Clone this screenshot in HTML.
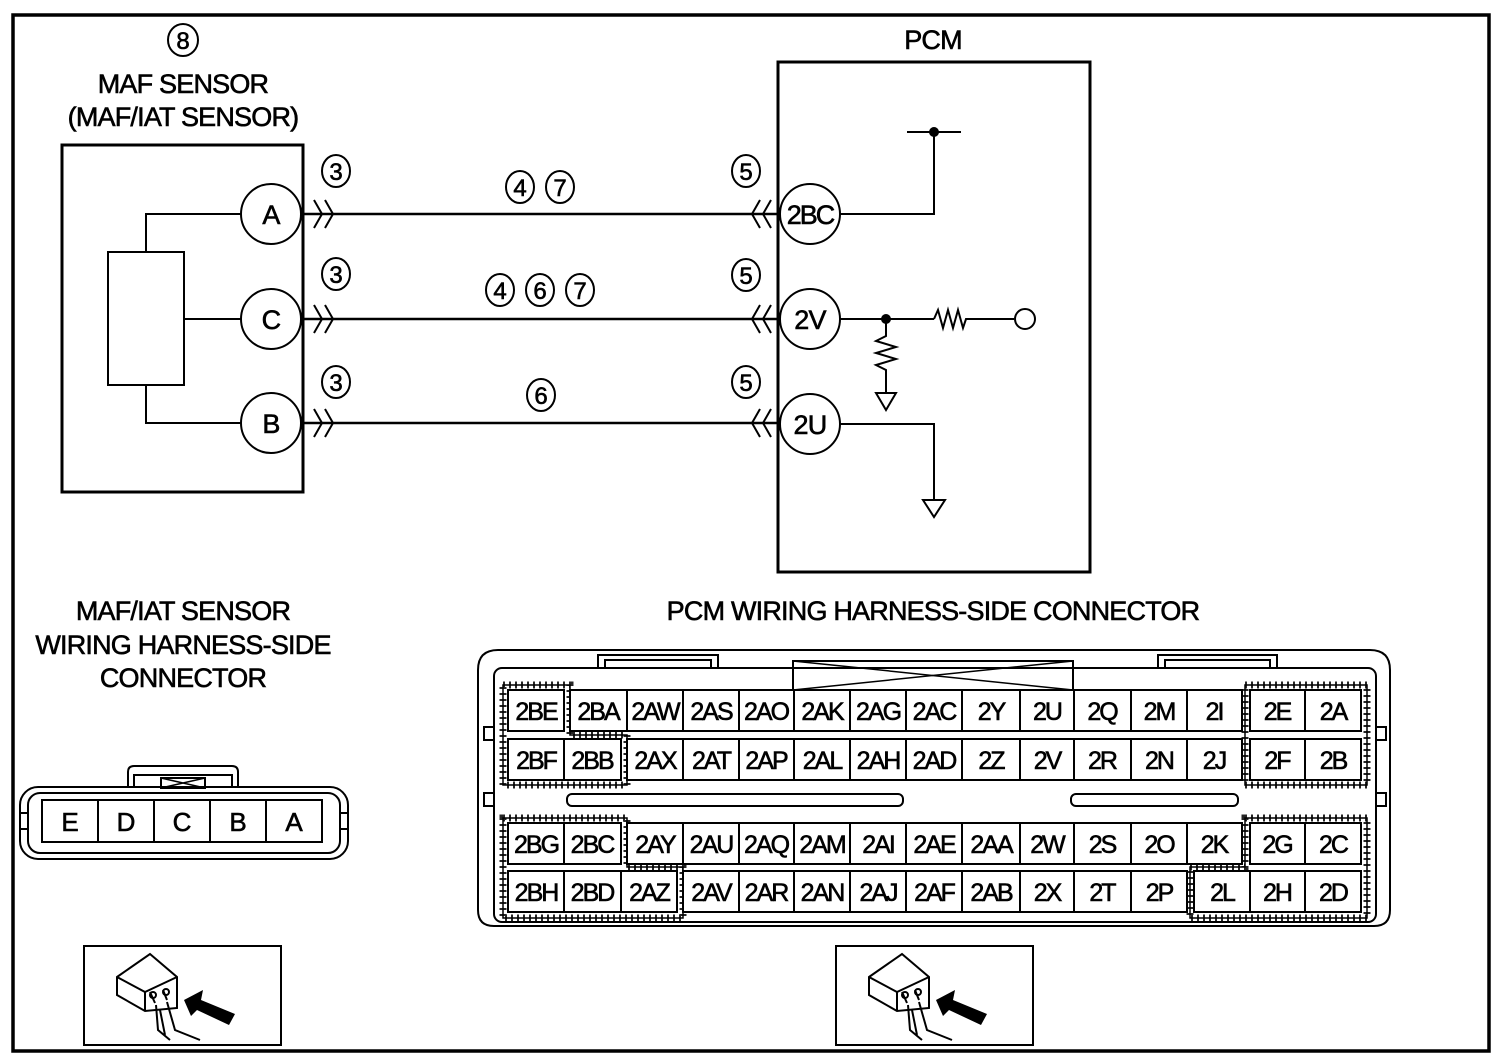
<!DOCTYPE html>
<html><head><meta charset="utf-8"><style>
html,body{margin:0;padding:0;background:#fff}
svg{display:block}
text{font-family:"Liberation Sans",Arial,sans-serif;fill:#000;stroke:#000;stroke-width:0.6}
</style></head><body>
<svg width="1502" height="1062" viewBox="0 0 1502 1062" xmlns="http://www.w3.org/2000/svg">
<rect x="0" y="0" width="1502" height="1062" fill="#fff"/>
<rect x="13" y="15" width="1476" height="1036" fill="none" stroke="#000" stroke-width="3.5"/>

<g fill="none" stroke="#000" stroke-width="2.5">
<rect x="62" y="145" width="241" height="347" stroke-width="3"/>
<rect x="108" y="252" width="76" height="133" stroke-width="2"/>
<polyline points="146,252 146,214 241,214" stroke-width="2"/>
<polyline points="146,385 146,423 241,423" stroke-width="2"/>
<line x1="184" y1="319" x2="241" y2="319" stroke-width="2"/>
<circle cx="271" cy="214" r="30" stroke-width="2"/>
<circle cx="271" cy="319" r="30" stroke-width="2"/>
<circle cx="271" cy="423" r="30" stroke-width="2"/>
<line x1="303" y1="214" x2="778" y2="214"/>
<line x1="303" y1="319" x2="778" y2="319"/>
<line x1="303" y1="423" x2="778" y2="423"/>
<g stroke-width="2">
<polyline points="314,200 322,214 314,228"/><polyline points="325,200 333,214 325,228"/>
<polyline points="314,305 322,319 314,333"/><polyline points="325,305 333,319 325,333"/>
<polyline points="314,409 322,423 314,437"/><polyline points="325,409 333,423 325,437"/>
<polyline points="760,200 752,214 760,228"/><polyline points="771,200 763,214 771,228"/>
<polyline points="760,305 752,319 760,333"/><polyline points="771,305 763,319 771,333"/>
<polyline points="760,409 752,423 760,437"/><polyline points="771,409 763,423 771,437"/>
</g>
<rect x="778" y="62" width="312" height="510" stroke-width="3"/>
<circle cx="810" cy="214" r="30" fill="#fff" stroke-width="2"/>
<circle cx="810" cy="319" r="30" fill="#fff" stroke-width="2"/>
<circle cx="810" cy="424" r="30" fill="#fff" stroke-width="2"/>
<polyline points="840,214 934,214 934,132" stroke-width="2"/>
<line x1="907" y1="132" x2="961" y2="132" stroke-width="2"/>
<line x1="840" y1="319" x2="934" y2="319" stroke-width="2"/>
<polyline points="934,319 938,310 943,328 948,310 953,328 958,310 963,328 966,319 1014,319" stroke-width="2"/>
<circle cx="1025" cy="319" r="10" stroke-width="2"/>
<polyline points="886,319 886,336 876,341 896,347 876,353 896,359 876,365 886,370 886,393" stroke-width="2"/>
<polygon points="876,393 896,393 886,410" stroke-width="2"/>
<polyline points="840,424 934,424 934,500" stroke-width="2"/>
<polygon points="923,500 945,500 934,517" stroke-width="2"/>
</g>
<circle cx="934" cy="132" r="5"/>
<circle cx="886" cy="319" r="5"/>

<g fill="none" stroke="#000" stroke-width="2">
<ellipse cx="183" cy="40" rx="15" ry="16"/>
<ellipse cx="336" cy="171" rx="14" ry="16"/><ellipse cx="336" cy="274" rx="14" ry="16"/><ellipse cx="336" cy="382" rx="14" ry="16"/>
<ellipse cx="520" cy="187" rx="14" ry="16"/><ellipse cx="560" cy="187" rx="14" ry="16"/>
<ellipse cx="500" cy="290" rx="14" ry="16"/><ellipse cx="540" cy="290" rx="14" ry="16"/><ellipse cx="580" cy="290" rx="14" ry="16"/>
<ellipse cx="541" cy="395" rx="14" ry="16"/>
<ellipse cx="746" cy="171" rx="14" ry="16"/><ellipse cx="746" cy="275" rx="14" ry="16"/><ellipse cx="746" cy="382" rx="14" ry="16"/>
</g>
<g font-size="24" text-anchor="middle">
<text x="183" y="49">8</text>
<text x="336" y="180">3</text><text x="336" y="283">3</text><text x="336" y="391">3</text>
<text x="520" y="196">4</text><text x="560" y="196">7</text>
<text x="500" y="299">4</text><text x="540" y="299">6</text><text x="580" y="299">7</text>
<text x="541" y="404">6</text>
<text x="746" y="180">5</text><text x="746" y="284">5</text><text x="746" y="391">5</text>
</g>
<g font-size="27" text-anchor="middle" letter-spacing="-0.8">
<text x="183" y="93">MAF SENSOR</text>
<text x="183" y="126">(MAF/IAT SENSOR)</text>
<text x="933" y="49">PCM</text>
<text x="271" y="224">A</text><text x="271" y="329">C</text><text x="271" y="433">B</text>
<text x="810" y="224" letter-spacing="-2">2BC</text><text x="810" y="329">2V</text><text x="810" y="434">2U</text>
<text x="183" y="620">MAF/IAT SENSOR</text>
<text x="183" y="654">WIRING HARNESS-SIDE</text>
<text x="183" y="687">CONNECTOR</text>
<text x="933" y="620">PCM WIRING HARNESS-SIDE CONNECTOR</text>
</g>

<g fill="none" stroke="#000" stroke-width="2">
<path d="M128,787 L128,772 Q128,766 134,766 L232,766 Q238,766 238,772 L238,787"/>
<path d="M134,787 L134,775 L232,775 L232,787"/>
<rect x="161" y="778" width="44" height="10"/>
<path d="M161,778 L205,788 M205,778 L161,788" stroke-width="1.5"/>
<rect x="20" y="787" width="328" height="72" rx="18"/>
<rect x="28" y="793" width="312" height="60" rx="12"/>
<rect x="42" y="800" width="280" height="42"/>
<line x1="98" y1="800" x2="98" y2="842"/><line x1="154" y1="800" x2="154" y2="842"/>
<line x1="210" y1="800" x2="210" y2="842"/><line x1="266" y1="800" x2="266" y2="842"/>
<rect x="20" y="813" width="8" height="16"/><rect x="340" y="813" width="8" height="16"/>
</g>
<g font-size="26" text-anchor="middle">
<text x="70" y="831">E</text><text x="126" y="831">D</text><text x="182" y="831">C</text><text x="238" y="831">B</text><text x="294" y="831">A</text>
</g>

<g fill="none" stroke="#000" stroke-width="2">
<path d="M478,910 L478,670 Q478,650 498,650 L1370,650 Q1390,650 1390,670 L1390,910 Q1390,926 1374,926 L494,926 Q478,926 478,910 Z"/>
<rect x="494" y="668" width="882" height="254" rx="8"/>
<path d="M598,668 L598,655 L718,655 L718,668 M605,668 L605,660 L711,660 L711,668"/>
<path d="M1158,668 L1158,655 L1277,655 L1277,668 M1165,668 L1165,660 L1270,660 L1270,668"/>
<rect x="793" y="661" width="280" height="29"/>
<path d="M793,661 L1073,690 M1073,661 L793,690" stroke-width="1.5"/>
<rect x="567" y="794" width="336" height="12" rx="5"/>
<rect x="1071" y="794" width="167" height="12" rx="5"/>
<rect x="484" y="727" width="10" height="13"/><rect x="484" y="793" width="10" height="13"/>
<rect x="1376" y="727" width="10" height="13"/><rect x="1376" y="793" width="10" height="13"/>
</g>
<g fill="none" stroke="#000" stroke-width="7" stroke-dasharray="2 4" opacity="0.85">
<path d="M503,685 L570,685 L570,735 L627,735 L627,785 L503,785 Z"/>
<path d="M503,818 L627,818 L627,867 L683,867 L683,918 L503,918 Z"/>
<path d="M1245,685 L1367,685 L1367,785 L1245,785 Z"/>
<path d="M1245,818 L1367,818 L1367,918 L1190,918 L1190,867 L1245,867 Z"/>
</g>
<g fill="none" stroke="#000" stroke-width="1.5">
<path d="M503,685 L570,685 L570,735 L627,735 L627,785 L503,785 Z"/>
<path d="M503,818 L627,818 L627,867 L683,867 L683,918 L503,918 Z"/>
<path d="M1245,685 L1367,685 L1367,785 L1245,785 Z"/>
<path d="M1245,818 L1367,818 L1367,918 L1190,918 L1190,867 L1245,867 Z"/>
</g>

<g fill="none" stroke="#000" stroke-width="2">
<rect x="84" y="946" width="197" height="99"/>
<rect x="836" y="946" width="197" height="99"/>
</g>
<g fill="none" stroke="#000" stroke-width="2">
<path d="M117,977 L150,954 L177,977 L177,1008 L145,1011 L117,995 Z"/>
<path d="M117,977 L145,992 L177,977 M145,992 L145,1011"/>
<path d="M150,992 L155,1003 M163,990 L167,1000 M156,1005 L158,1030 L170,1040 M167,1002 L175,1030 L200,1040 M160,1010 L165,1035"/>
<circle cx="153" cy="995" r="3"/><circle cx="166" cy="992" r="3"/>
</g>
<polygon points="184,1000 203,990 201,1000 235,1014 229,1025 197,1010 191,1016" fill="#000"/>
<g fill="none" stroke="#000" stroke-width="2">
<path d="M869,977 L902,954 L929,977 L929,1008 L897,1011 L869,995 Z"/>
<path d="M869,977 L897,992 L929,977 M897,992 L897,1011"/>
<path d="M902,992 L907,1003 M915,990 L919,1000 M908,1005 L910,1030 L922,1040 M919,1002 L927,1030 L952,1040 M912,1010 L917,1035"/>
<circle cx="905" cy="995" r="3"/><circle cx="918" cy="992" r="3"/>
</g>
<polygon points="936,1000 955,990 953,1000 987,1014 981,1025 949,1010 943,1016" fill="#000"/>

<g fill="#fff" stroke="#000" stroke-width="2">
<rect x="508" y="690" width="56" height="41"/><rect x="570" y="690" width="57" height="41"/><rect x="627" y="690" width="56" height="41"/><rect x="683" y="690" width="56" height="41"/><rect x="739" y="690" width="55" height="41"/><rect x="794" y="690" width="56" height="41"/><rect x="850" y="690" width="56" height="41"/><rect x="906" y="690" width="56" height="41"/><rect x="962" y="690" width="58" height="41"/><rect x="1020" y="690" width="54" height="41"/><rect x="1074" y="690" width="57" height="41"/><rect x="1131" y="690" width="56" height="41"/><rect x="1187" y="690" width="55" height="41"/><rect x="1250" y="690" width="55" height="41"/><rect x="1305" y="690" width="56" height="41"/>
<rect x="508" y="739" width="56" height="41"/><rect x="564" y="739" width="57" height="41"/><rect x="627" y="739" width="56" height="41"/><rect x="683" y="739" width="56" height="41"/><rect x="739" y="739" width="55" height="41"/><rect x="794" y="739" width="56" height="41"/><rect x="850" y="739" width="56" height="41"/><rect x="906" y="739" width="56" height="41"/><rect x="962" y="739" width="58" height="41"/><rect x="1020" y="739" width="54" height="41"/><rect x="1074" y="739" width="57" height="41"/><rect x="1131" y="739" width="56" height="41"/><rect x="1187" y="739" width="55" height="41"/><rect x="1250" y="739" width="55" height="41"/><rect x="1305" y="739" width="56" height="41"/>
<rect x="508" y="823" width="56" height="41"/><rect x="564" y="823" width="57" height="41"/><rect x="627" y="823" width="56" height="41"/><rect x="683" y="823" width="56" height="41"/><rect x="739" y="823" width="55" height="41"/><rect x="794" y="823" width="56" height="41"/><rect x="850" y="823" width="56" height="41"/><rect x="906" y="823" width="56" height="41"/><rect x="962" y="823" width="58" height="41"/><rect x="1020" y="823" width="54" height="41"/><rect x="1074" y="823" width="57" height="41"/><rect x="1131" y="823" width="56" height="41"/><rect x="1187" y="823" width="55" height="41"/><rect x="1250" y="823" width="55" height="41"/><rect x="1305" y="823" width="56" height="41"/>
<rect x="508" y="871" width="56" height="41"/><rect x="564" y="871" width="57" height="41"/><rect x="621" y="871" width="56" height="41"/><rect x="683" y="871" width="56" height="41"/><rect x="739" y="871" width="55" height="41"/><rect x="794" y="871" width="56" height="41"/><rect x="850" y="871" width="56" height="41"/><rect x="906" y="871" width="56" height="41"/><rect x="962" y="871" width="58" height="41"/><rect x="1020" y="871" width="54" height="41"/><rect x="1074" y="871" width="57" height="41"/><rect x="1131" y="871" width="56" height="41"/><rect x="1194" y="871" width="56" height="41"/><rect x="1250" y="871" width="55" height="41"/><rect x="1305" y="871" width="56" height="41"/>
</g>
<g font-size="25" text-anchor="middle" letter-spacing="-2">
<text x="536" y="720">2BE</text><text x="598" y="720">2BA</text><text x="655" y="720">2AW</text><text x="711" y="720">2AS</text><text x="766" y="720">2AO</text><text x="822" y="720">2AK</text><text x="878" y="720">2AG</text><text x="934" y="720">2AC</text><text x="991" y="720">2Y</text><text x="1047" y="720">2U</text><text x="1102" y="720">2Q</text><text x="1159" y="720">2M</text><text x="1214" y="720">2I</text><text x="1277" y="720">2E</text><text x="1333" y="720">2A</text>
<text x="536" y="769">2BF</text><text x="592" y="769">2BB</text><text x="655" y="769">2AX</text><text x="711" y="769">2AT</text><text x="766" y="769">2AP</text><text x="822" y="769">2AL</text><text x="878" y="769">2AH</text><text x="934" y="769">2AD</text><text x="991" y="769">2Z</text><text x="1047" y="769">2V</text><text x="1102" y="769">2R</text><text x="1159" y="769">2N</text><text x="1214" y="769">2J</text><text x="1277" y="769">2F</text><text x="1333" y="769">2B</text>
<text x="536" y="853">2BG</text><text x="592" y="853">2BC</text><text x="655" y="853">2AY</text><text x="711" y="853">2AU</text><text x="766" y="853">2AQ</text><text x="822" y="853">2AM</text><text x="878" y="853">2AI</text><text x="934" y="853">2AE</text><text x="991" y="853">2AA</text><text x="1047" y="853">2W</text><text x="1102" y="853">2S</text><text x="1159" y="853">2O</text><text x="1214" y="853">2K</text><text x="1277" y="853">2G</text><text x="1333" y="853">2C</text>
<text x="536" y="901">2BH</text><text x="592" y="901">2BD</text><text x="649" y="901">2AZ</text><text x="711" y="901">2AV</text><text x="766" y="901">2AR</text><text x="822" y="901">2AN</text><text x="878" y="901">2AJ</text><text x="934" y="901">2AF</text><text x="991" y="901">2AB</text><text x="1047" y="901">2X</text><text x="1102" y="901">2T</text><text x="1159" y="901">2P</text><text x="1222" y="901">2L</text><text x="1277" y="901">2H</text><text x="1333" y="901">2D</text>
</g>
</svg>
</body></html>
